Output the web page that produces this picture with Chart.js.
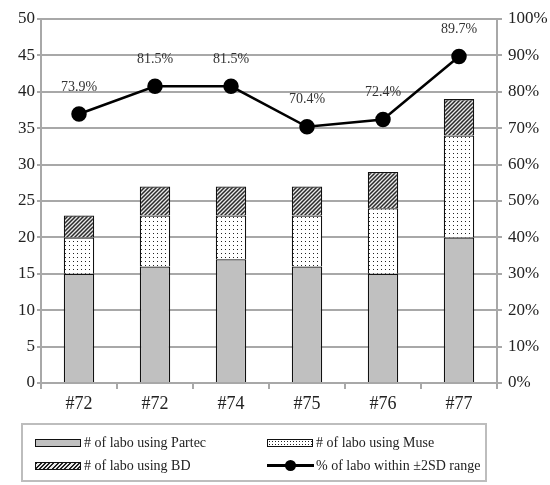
<!DOCTYPE html>
<html>
<head>
<meta charset="utf-8">
<script src="https://cdn.jsdelivr.net/npm/chart.js@4/dist/chart.umd.min.js"></script>
<style>
  body { margin: 0; background: #fff; }
  #wrap { position: relative; width: 550px; height: 485px; }
  #legend {
    position: absolute; left: 21px; top: 423px; width: 462px; height: 55px;
    border: 2px solid #bdbdbd; font-family: "Liberation Serif", serif; font-size: 14px; color: #222;
    display: grid; grid-template-columns: 244px 218px; grid-template-rows: 23px 23px;
    padding-top: 6px; box-sizing: border-box; height: 59px; width: 466px;
    align-items: center; white-space: nowrap;
  }
  .item { display: flex; align-items: center; padding-left: 12px; }
  .item:nth-child(2n) { padding-left: 0; }
  .sw { width: 44px; height: 6px; border: 1.5px solid #111; margin-right: 3px; }
  .line { width: 47px; height: 3px; background: #000; position: relative; margin-right: 2px; }
  .line::after { content: ""; position: absolute; left: 18px; top: -4px; width: 11px; height: 11px; border-radius: 50%; background: #000; }
</style>
</head>
<body>
<div id="wrap">
  <canvas id="myChart" width="550" height="485"></canvas>
  <div id="legend"></div>
</div>
<script>
const categories = ['#72', '#72', '#74', '#75', '#76', '#77'];
const partec = [15, 16, 17, 16, 15, 20];
const muse = [5, 7, 6, 7, 9, 14];
const bd = [3, 4, 4, 4, 5, 5];
const pctWithin = [73.9, 81.5, 81.5, 70.4, 72.4, 89.7];
const seriesNames = ['# of labo using Partec', '# of labo using Muse', '# of labo using BD', '% of labo within \u00b12SD range'];

function dotPattern() {
  const c = document.createElement('canvas');
  c.width = 4; c.height = 4;
  const g = c.getContext('2d');
  g.fillStyle = '#fff'; g.fillRect(0, 0, 4, 4);
  g.fillStyle = '#222'; g.fillRect(1, 1, 1, 1);
  return g.createPattern(c, 'repeat');
}
function hatchPattern() {
  const c = document.createElement('canvas');
  c.width = 4; c.height = 4;
  const g = c.getContext('2d');
  g.fillStyle = '#e8e8e8'; g.fillRect(0, 0, 4, 4);
  g.strokeStyle = '#2a2a2a'; g.lineWidth = 1.5;
  g.beginPath();
  g.moveTo(-1, 5); g.lineTo(5, -1);
  g.moveTo(-1, 1); g.lineTo(1, -1);
  g.moveTo(3, 5); g.lineTo(5, 3);
  g.stroke();
  return g.createPattern(c, 'repeat');
}

const gridGray = '#a8a8a8';
const font = { family: '"Liberation Serif", serif', size: 17 };

const pctLabels = {
  id: 'pctLabels',
  afterDatasetsDraw(chart) {
    const ctx = chart.ctx;
    const meta = chart.getDatasetMeta(3);
    ctx.save();
    ctx.font = '14px "Liberation Serif", serif';
    ctx.fillStyle = '#333';
    ctx.textAlign = 'center';
    ctx.textBaseline = 'middle';
    meta.data.forEach((pt, i) => {
      ctx.fillText(pctWithin[i].toFixed(1) + '%', pt.x, pt.y - 27);
    });
    ctx.restore();
  }
};

const ctx = document.getElementById('myChart');
const myChart = new Chart(ctx, {
  type: 'bar',
  data: {
    labels: categories,
    datasets: [
      { label: seriesNames[0], data: partec, backgroundColor: '#c0c0c0', borderColor: '#111', borderWidth: 1.3, yAxisID: 'y', order: 1 },
      { label: seriesNames[1], data: muse, backgroundColor: dotPattern(), borderColor: '#111', borderWidth: 1.3, yAxisID: 'y', order: 1 },
      { label: seriesNames[2], data: bd, backgroundColor: hatchPattern(), borderColor: '#111', borderWidth: 1.3, yAxisID: 'y', order: 1 },
      { type: 'line', label: seriesNames[3], data: pctWithin, borderColor: '#000', backgroundColor: '#000', borderWidth: 2.5,
        pointRadius: 6.5, pointHoverRadius: 6.5, yAxisID: 'y1', order: 0 }
    ]
  },
  options: {
    responsive: false,
    animation: false,
    layout: { padding: { top: 19, bottom: 62, left: 0, right: 0 } },
    plugins: { legend: { display: false }, tooltip: { enabled: false } },
    datasets: { bar: { barPercentage: 0.4, categoryPercentage: 1 } },
    scales: {
      x: {
        stacked: true,
        grid: { offset: true, drawOnChartArea: false, color: gridGray, lineWidth: 2, tickLength: 6 },
        border: { color: gridGray, width: 2 },
        ticks: { font: { family: font.family, size: 18 }, color: '#222', padding: 4 },
        afterFit(s) { s.height = 40; }
      },
      y: {
        stacked: true,
        min: 0, max: 50,
        ticks: { stepSize: 5, font: font, color: '#222', padding: 2 },
        grid: { color: gridGray, lineWidth: 2, tickLength: 4 },
        border: { color: gridGray, width: 2 },
        afterFit(s) { s.width = 41; }
      },
      y1: {
        position: 'right',
        min: 0, max: 100,
        ticks: { stepSize: 10, font: font, color: '#222', padding: 6, callback: v => v + '%' },
        grid: { drawOnChartArea: false, color: gridGray, lineWidth: 2, tickLength: 5 },
        border: { color: gridGray, width: 2 },
        afterFit(s) { s.width = 53; }
      }
    }
  },
  plugins: [pctLabels]
});

// legend below the chart, two columns like the original
const legendDiv = document.getElementById('legend');
const swatchCss = [
  'background:#c0c0c0',
  'background-color:#fff;background-image:radial-gradient(#222 0.6px, transparent 0.8px);background-size:3px 3px',
  'background:repeating-linear-gradient(135deg,#222 0 1.4px,#e8e8e8 1.4px 3px)'
];
seriesNames.forEach((name, i) => {
  const item = document.createElement('div');
  item.className = 'item';
  const sw = document.createElement('span');
  if (i < 3) { sw.className = 'sw'; sw.style.cssText = swatchCss[i]; }
  else { sw.className = 'line'; }
  item.appendChild(sw);
  item.appendChild(document.createTextNode(name));
  legendDiv.appendChild(item);
});
</script>
</body>
</html>
